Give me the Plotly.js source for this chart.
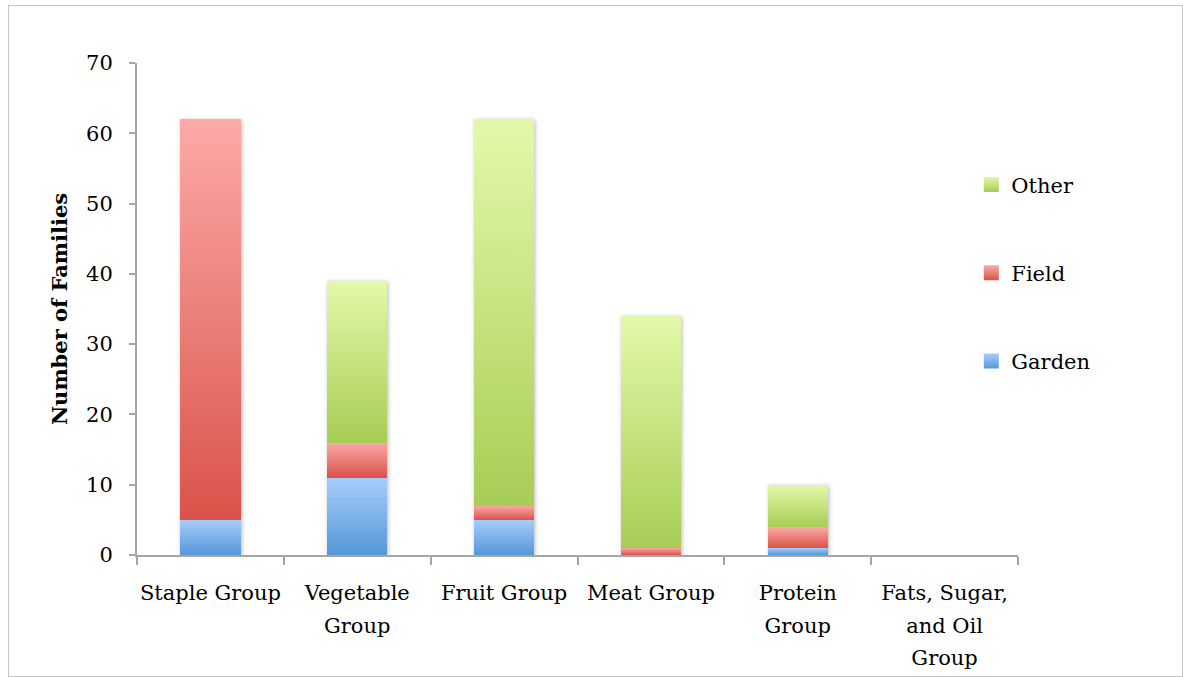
<!DOCTYPE html>
<html>
<head>
<meta charset="utf-8">
<script src="https://cdn.plot.ly/plotly-3.0.1.min.js"></script>
<style>
  html, body { margin: 0; padding: 0; background: #fff; }
  #frame { position: absolute; left: 8px; top: 5px; width: 1175px; height: 672px; border: 1px solid #c4c4c4; box-sizing: border-box; pointer-events: none; }
  #chart { width: 1183px; height: 677px; }
  .barlayer { filter: drop-shadow(1.5px 1.5px 2px rgba(0,0,0,0.28)); }
</style>
</head>
<body>
<div id="chart"></div>
<div id="frame"></div>
<script>
// Food groups and the number of families sourcing each from garden, field or elsewhere
const categories = ["Staple Group", "Vegetable<br>Group", "Fruit Group", "Meat Group", "Protein<br>Group", "Fats, Sugar,<br>and Oil<br>Group"];
const garden = [5, 11, 5, 0, 1, 0];
const field  = [57, 5, 2, 1, 3, 0];
const other  = [0, 23, 55, 33, 6, 0];

// top (light) and bottom (dark) shades of each series' vertical gradient
const seriesNames = ["Garden", "Field", "Other"];
const legendRanks = [3, 2, 1];
const shades = {
  Garden: ["#a8cdfb", "#5497d8"],
  Field:  ["#fcaaa7", "#d9534a"],
  Other:  ["#e3f9aa", "#a8cd55"]
};

const font = "DejaVu Serif, Liberation Serif, serif";
const values = [garden, field, other];

const traces = seriesNames.map((name, i) => ({
  type: "bar",
  name: name,
  x: categories,
  y: values[i],
  width: 0.41,
  legendgroup: name,
  legendrank: legendRanks[i],
  marker: { color: shades[name][1], line: { width: 0 } }
}));

const layout = {
  width: 1183,
  height: 677,
  barmode: "stack",
  paper_bgcolor: "#ffffff",
  plot_bgcolor: "#ffffff",
  margin: { l: 137, r: 165, t: 63, b: 122 },
  font: { family: font, size: 21, color: "#000" },
  showlegend: true,
  legend: {
    x: 0.947, xanchor: "left",
    y: 0.794, yanchor: "top",
    traceorder: "grouped",
    tracegroupgap: 58,
    font: { family: font, size: 21, color: "#000" },
    bgcolor: "rgba(0,0,0,0)"
  },
  xaxis: {
    type: "category",
    showline: true, linecolor: "#a6a6a6", linewidth: 2,
    ticks: "outside", tickson: "boundaries", ticklen: 8, tickcolor: "#a6a6a6", tickwidth: 2,
    ticklabelstandoff: 18, tickangle: 0,
    showgrid: false, zeroline: false,
    tickfont: { family: font, size: 21, color: "#000" }
  },
  yaxis: {
    range: [0, 70], dtick: 10,
    showline: true, linecolor: "#a6a6a6", linewidth: 2,
    ticks: "outside", ticklen: 6, tickcolor: "#a6a6a6", tickwidth: 2,
    ticklabelstandoff: 12,
    showgrid: false, zeroline: false,
    tickfont: { family: font, size: 21, color: "#000" },
    title: { text: "<b>Number of Families</b>", font: { family: font, size: 21, color: "#000" }, standoff: 13 }
  }
};

Plotly.newPlot("chart", traces, layout, { staticPlot: true, displayModeBar: false }).then(gd => {
  // add vertical gradients and paint each series with its own
  const svgNS = "http://www.w3.org/2000/svg";
  const svg = gd.querySelector("svg.main-svg");
  let defs = svg.querySelector("defs");
  if (!defs) { defs = document.createElementNS(svgNS, "defs"); svg.insertBefore(defs, svg.firstChild); }
  seriesNames.forEach(name => {
    const g = document.createElementNS(svgNS, "linearGradient");
    g.setAttribute("id", "grad-" + name);
    g.setAttribute("x1", "0"); g.setAttribute("y1", "0");
    g.setAttribute("x2", "0"); g.setAttribute("y2", "1");
    [["0", shades[name][0]], ["1", shades[name][1]]].forEach(([off, col]) => {
      const s = document.createElementNS(svgNS, "stop");
      s.setAttribute("offset", off); s.setAttribute("stop-color", col);
      g.appendChild(s);
    });
    defs.appendChild(g);
  });
  gd.querySelectorAll(".barlayer .trace").forEach((tr, i) => {
    tr.querySelectorAll(".point path").forEach(p => { p.style.fill = "url(#grad-" + seriesNames[i] + ")"; });
  });
  gd.querySelectorAll(".legend .traces").forEach(tr => {
    const name = tr.querySelector(".legendtext").textContent;
    tr.querySelectorAll(".legendpoints path").forEach(p => {
      p.setAttribute("d", "M7.5,7.5H-7.5V-7.5H7.5Z");
      p.style.fill = "url(#grad-" + name + ")";
    });
  });
  // looser line spacing for the wrapped category labels
  gd.querySelectorAll(".xtick text tspan.line").forEach(t => {
    const dy = parseFloat(t.getAttribute("dy"));
    if (dy) t.setAttribute("dy", (dy * 1.55 / 1.3).toFixed(3) + "em");
  });
});
</script>
</body>
</html>
